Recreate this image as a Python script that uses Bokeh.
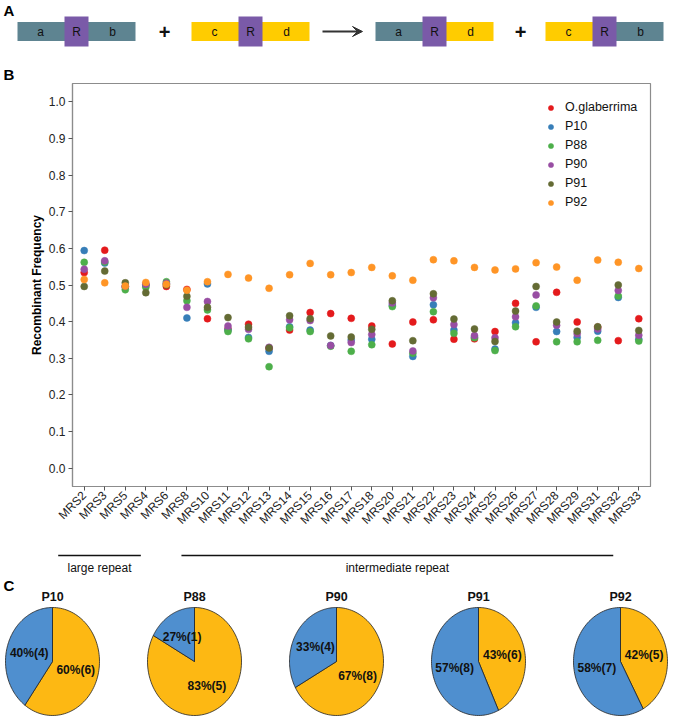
import numpy as np
from bokeh.plotting import figure
from bokeh.models import Range1d, FixedTicker, Legend, LegendItem, Arrow, VeeHead, PrintfTickFormatter
from bokeh.layouts import column
from bokeh.embed import file_html
from bokeh.resources import INLINE
from bokeh.core.properties import value

FONT = "Liberation Sans"

# ---------------- data ----------------
markers = ["MRS2", "MRS3", "MRS5", "MRS4", "MRS6", "MRS8", "MRS10", "MRS11", "MRS12", "MRS13",
           "MRS14", "MRS15", "MRS16", "MRS17", "MRS18", "MRS20", "MRS21", "MRS22", "MRS23", "MRS24",
           "MRS25", "MRS26", "MRS27", "MRS28", "MRS29", "MRS31", "MRS32", "MRS33"]

o_glaberrima = [0.534, 0.595, 0.495, 0.500, 0.496, 0.488, 0.408, 0.380, 0.393, 0.327,
                0.377, 0.425, 0.422, 0.409, 0.388, 0.339, 0.399, 0.405, 0.352, 0.353,
                0.373, 0.450, 0.345, 0.480, 0.399, 0.385, 0.348, 0.408]
p10 = [0.594, 0.560, 0.495, 0.500, 0.503, 0.410, 0.503, 0.377, 0.357, 0.319,
       0.386, 0.377, 0.335, 0.350, 0.352, 0.445, 0.305, 0.446, 0.377, 0.358,
       0.325, 0.397, 0.439, 0.373, 0.357, 0.374, 0.466, 0.352]
p88 = [0.562, 0.563, 0.487, 0.494, 0.509, 0.457, 0.432, 0.373, 0.353, 0.277,
       0.383, 0.373, 0.333, 0.319, 0.337, 0.441, 0.314, 0.427, 0.368, 0.356,
       0.321, 0.386, 0.443, 0.345, 0.345, 0.349, 0.470, 0.347]
p90 = [0.543, 0.566, 0.497, 0.502, 0.505, 0.439, 0.455, 0.388, 0.379, 0.330,
       0.405, 0.403, 0.335, 0.343, 0.365, 0.451, 0.320, 0.465, 0.392, 0.362,
       0.356, 0.413, 0.473, 0.390, 0.367, 0.380, 0.485, 0.363]
p91 = [0.496, 0.538, 0.506, 0.479, 0.500, 0.469, 0.439, 0.411, 0.385, 0.328,
       0.416, 0.408, 0.361, 0.358, 0.379, 0.457, 0.348, 0.476, 0.407, 0.380,
       0.346, 0.429, 0.496, 0.399, 0.374, 0.386, 0.500, 0.376]
p92 = [0.515, 0.506, 0.497, 0.507, 0.502, 0.486, 0.509, 0.529, 0.519, 0.491,
       0.528, 0.559, 0.528, 0.534, 0.548, 0.525, 0.513, 0.569, 0.566, 0.548,
       0.541, 0.544, 0.561, 0.549, 0.513, 0.568, 0.562, 0.545]

series_names = ["O.glaberrima", "P10", "P88", "P90", "P91", "P92"]
series_values = [o_glaberrima, p10, p88, p90, p91, p92]
series_colors = ["#E41A1C", "#377EB8", "#4DAF4A", "#984EA3", "#646B34", "#FF9526"]

y_ticks = [0.0, 0.1, 0.2, 0.3, 0.4, 0.5, 0.6, 0.7, 0.8, 0.9, 1.0]

large_repeat = ["MRS2", "MRS3", "MRS5", "MRS4"]
intermediate_repeat = ["MRS10", "MRS11", "MRS12", "MRS13", "MRS14", "MRS15", "MRS16", "MRS17",
                       "MRS18", "MRS20", "MRS21", "MRS22", "MRS23", "MRS24", "MRS25", "MRS26",
                       "MRS27", "MRS28", "MRS29", "MRS31", "MRS32"]

pie_names = ["P10", "P88", "P90", "P91", "P92"]
pie_blue_pct = [40, 17, 33, 57, 58]
pie_yellow_pct = [60, 83, 67, 43, 42]
pie_blue_labels = ["40%(4)", "27%(1)", "33%(4)", "57%(8)", "58%(7)"]
pie_yellow_labels = ["60%(6)", "83%(5)", "67%(8)", "43%(6)", "42%(5)"]

# panel A schematic
left_parts = ["a", "c", "a", "c"]
right_parts = ["b", "d", "d", "b"]

TEAL = "#5E8491"
YELLOW = "#FFCC00"
PURPLE = "#7A5AA8"
PIE_BLUE = "#4F8FCF"
PIE_YELLOW = "#FDB813"
part_color = {"a": TEAL, "b": TEAL, "c": YELLOW, "d": YELLOW}

W = 685

def blank(fig):
    fig.axis.visible = False
    fig.grid.visible = False
    fig.outline_line_color = None
    fig.background_fill_color = None
    fig.border_fill_color = None
    return fig

# ---------------- panel A ----------------
fa = blank(figure(width=W, height=82, x_range=Range1d(0, W), y_range=Range1d(82, 0),
                  output_backend="svg", toolbar_location=None, min_border=0, frame_align=False))
box_x0 = [17, 191, 375, 545]
box_w = 118
r_w = 24
cy_a = 31
lx0, lx1, rx0, rx1, cols_l, cols_r = [], [], [], [], [], []
for x0, lp, rp in zip(box_x0, left_parts, right_parts):
    lx0.append(x0); lx1.append(x0 + box_w / 2); cols_l.append(part_color[lp])
    rx0.append(x0 + box_w / 2); rx1.append(x0 + box_w); cols_r.append(part_color[rp])
fa.quad(left=lx0, right=lx1, top=cy_a - 9.5, bottom=cy_a + 9.5, fill_color=cols_l, line_color=None)
fa.quad(left=rx0, right=rx1, top=cy_a - 9.5, bottom=cy_a + 9.5, fill_color=cols_r, line_color=None)
rc = [x0 + box_w / 2 for x0 in box_x0]
fa.quad(left=[c - r_w / 2 for c in rc], right=[c + r_w / 2 for c in rc], top=cy_a - 15, bottom=cy_a + 15,
        fill_color=PURPLE, line_color=None)
tx, tt = [], []
for x0, lp, rp in zip(box_x0, left_parts, right_parts):
    tx += [x0 + 0.195 * box_w, x0 + box_w / 2, x0 + 0.805 * box_w]
    tt += [lp, "R", rp]
fa.text(x=tx, y=[cy_a] * len(tx), text=tt, text_font=value(FONT), text_font_size="12px",
        text_align="center", text_baseline="middle", text_color="#111111")
fa.text(x=[164, 520], y=[cy_a, cy_a], text=["+", "+"], text_font=value(FONT), text_font_size="20px",
        text_font_style="bold", text_align="center", text_baseline="middle", text_color="#111111")
fa.add_layout(Arrow(x_start=322, x_end=362, y_start=cy_a, y_end=cy_a, line_color="#333333", line_width=2,
                    end=VeeHead(size=10, fill_color="#333333", line_color="#333333")))
fa.text(x=[3, 3], y=[10, 74], text=["A", "B"], text_font=value(FONT), text_font_size="15px",
        text_font_style="bold", text_align="left", text_baseline="middle", text_color="#000000")

# ---------------- panel B ----------------
x_start, x_end = -0.57, 27.57
frame_left, frame_right = 72, 650
pb = figure(width=W, height=466, x_range=Range1d(x_start, x_end), y_range=Range1d(-0.05, 1.05),
            output_backend="svg", toolbar_location=None, frame_align=False,
            min_border_left=frame_left, min_border_right=W - frame_right,
            min_border_top=1, min_border_bottom=62)
pb.grid.visible = False
pb.outline_line_color = "#8c8c8c"
pb.outline_line_width = 1.2
pb.background_fill_color = "white"
pb.border_fill_color = "white"

idx = list(range(len(markers)))
renderers = []
for name, vals, col in zip(series_names, series_values, series_colors):
    r = pb.scatter(x=idx, y=vals, size=7, fill_color=col, line_color=col, line_width=0.5)
    renderers.append(r)

pb.yaxis.ticker = FixedTicker(ticks=y_ticks)
pb.yaxis.formatter = PrintfTickFormatter(format="%.1f")
pb.xaxis.ticker = FixedTicker(ticks=idx)
pb.xaxis.major_label_overrides = {i: m for i, m in enumerate(markers)}
pb.xaxis.major_label_orientation = np.pi / 4
pb.yaxis.axis_label = "Recombinant Frequency"
pb.yaxis.axis_label_text_font = FONT
pb.yaxis.axis_label_text_font_size = "12px"
pb.yaxis.axis_label_text_font_style = "bold"
pb.yaxis.axis_label_text_color = "#000000"
pb.yaxis.axis_label_standoff = 2
for ax in (pb.xaxis, pb.yaxis):
    ax.minor_tick_line_color = None
    ax.major_tick_in = 0
    ax.major_tick_out = 4
    ax.major_tick_line_color = "#555555"
    ax.axis_line_color = "#8c8c8c"
    ax.axis_line_width = 1.2
    ax.major_label_text_font = FONT
    ax.major_label_text_font_size = "12px"
    ax.major_label_text_color = "#222222"
    ax.major_label_standoff = 3

legend = Legend(items=[LegendItem(label=n, renderers=[r]) for n, r in zip(series_names, renderers)],
                location=(472, 276), glyph_width=13, glyph_height=13, label_height=16,
                spacing=3, padding=0, label_standoff=8, border_line_color=None,
                background_fill_alpha=0, label_text_font=FONT, label_text_font_size="12.5px",
                label_text_color="#111111")
pb.add_layout(legend)

# ---------------- panel C (+ group brackets) ----------------
fc = blank(figure(width=W, height=177, x_range=Range1d(0, W), y_range=Range1d(725, 548),
                  output_backend="svg", toolbar_location=None, min_border=0, frame_align=False))

px_per_unit = (frame_right - frame_left) / (x_end - x_start)
def px(name):
    return frame_left + (markers.index(name) - x_start) * px_per_unit

groups = [("large repeat", large_repeat), ("intermediate repeat", intermediate_repeat)]
gx0 = [px(g[0]) - 26 for _, g in groups]
gx1 = [px(g[-1]) - 5 for _, g in groups]
fc.segment(x0=gx0, x1=gx1, y0=555, y1=555, line_color="#111111", line_width=1.3)
fc.text(x=[(a + b) / 2 for a, b in zip(gx0, gx1)], y=[567] * 2, text=[g[0] for g in groups],
        text_font=value(FONT), text_font_size="12px", text_align="center", text_baseline="middle",
        text_color="#111111")
fc.text(x=[3], y=[585], text=["C"], text_font=value(FONT), text_font_size="15px",
        text_font_style="bold", text_align="left", text_baseline="middle", text_color="#000000")

pie_x0, pie_step, pie_cy, prx, pry = 52, 142, 661, 47, 54

def wedge(cx, cy, t0, t1, n=90):
    t = np.radians(np.linspace(t0, t1, n))
    xs = [cx] + list(cx + prx * np.sin(t)) + [cx]
    ys = [cy] + list(cy - pry * np.cos(t)) + [cy]
    return xs, ys

pxs, pys, pcol = [], [], []
lab_x, lab_y, lab_t = [], [], []
cxs = []
for i, (yp, bp) in enumerate(zip(pie_yellow_pct, pie_blue_pct)):
    cx = pie_x0 + i * pie_step
    cxs.append(cx)
    ya = yp / (yp + bp) * 360.0
    xs, ys = wedge(cx, pie_cy, 0, ya); pxs.append(xs); pys.append(ys); pcol.append(PIE_YELLOW)
    xs, ys = wedge(cx, pie_cy, ya, 360); pxs.append(xs); pys.append(ys); pcol.append(PIE_BLUE)
    for mid, txt in ((ya / 2, pie_yellow_labels[i]), ((ya + 360) / 2, pie_blue_labels[i])):
        m = np.radians(mid)
        lab_x.append(cx + 0.52 * prx * np.sin(m))
        lab_y.append(pie_cy - 0.52 * pry * np.cos(m))
        lab_t.append(txt)
fc.patches(xs=pxs, ys=pys, fill_color=pcol, line_color="#222222", line_width=0.8)
fc.text(x=lab_x, y=lab_y, text=lab_t, text_font=value(FONT), text_font_size="12px",
        text_font_style="bold", text_align="center", text_baseline="middle", text_color="#111111")
fc.text(x=cxs, y=[596] * len(cxs), text=pie_names, text_font=value(FONT), text_font_size="12.5px",
        text_font_style="bold", text_align="center", text_baseline="middle", text_color="#111111")

layout = column(fa, pb, fc, spacing=0)
open("out.html", "w").write(file_html(layout, INLINE))
